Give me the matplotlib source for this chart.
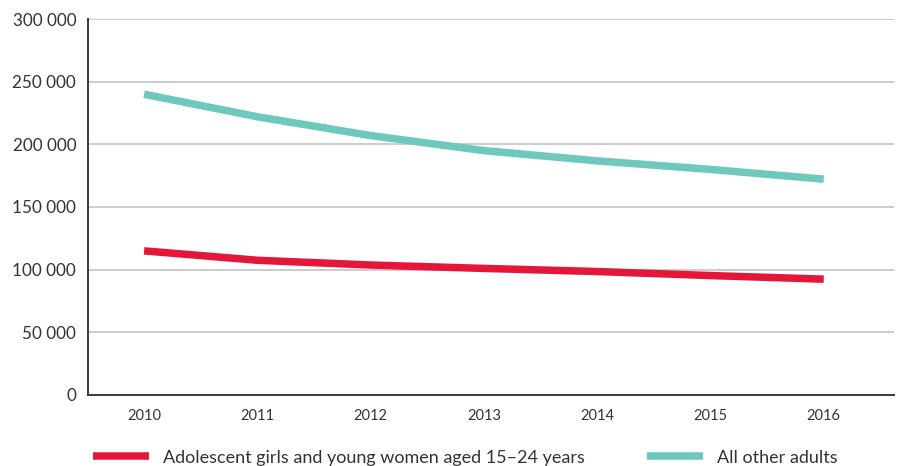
import matplotlib.pyplot as plt
from matplotlib.ticker import FuncFormatter

plt.rcParams['font.family'] = ['Lato', 'DejaVu Sans']

years = [2010, 2011, 2012, 2013, 2014, 2015, 2016]
girls = [115000, 107500, 103700, 101000, 98500, 95300, 92400]
others = [240000, 222000, 207000, 195000, 186800, 180000, 172200]

label_girls = 'Adolescent girls and young women aged 15–24 years'
label_others = 'All other adults'

red = '#e4173a'
teal = '#6fc8bc'
text_col = '#333333'

fig = plt.figure(figsize=(8.98, 4.66), dpi=100)
ax = fig.add_axes([0.098, 0.1524, 0.8975, 0.8068])

ax.plot(years, girls, color=red, lw=5.4, solid_capstyle='butt', label=label_girls, zorder=3)
ax.plot(years, others, color=teal, lw=5.4, solid_capstyle='butt', label=label_others, zorder=3)

ax.set_xlim(2009.505, 2016.62)
ax.set_ylim(0, 300000)
ax.set_yticks(range(0, 300001, 50000))
ax.set_xticks(years)
ax.yaxis.set_major_formatter(FuncFormatter(lambda v, p: f'{int(v):,}'.replace(',', ' ')))

ax.grid(axis='y', color='#c4c4c4', lw=1.2)
ax.set_axisbelow(True)
for s in ['top', 'right']:
    ax.spines[s].set_visible(False)
for s in ['left', 'bottom']:
    ax.spines[s].set_color('#3a3a3a')
    ax.spines[s].set_linewidth(1.4)

ax.tick_params(axis='y', length=0, pad=8.5, labelsize=12.3, labelcolor=text_col)
ax.tick_params(axis='x', length=0, pad=10, labelsize=10.5, labelcolor=text_col)

fig.legend(loc='lower left', bbox_to_anchor=(0.098, -0.011), ncol=2, frameon=False,
           fontsize=13, handlelength=3.1, handletextpad=0.75, columnspacing=3.45,
           labelcolor=text_col, borderaxespad=0, borderpad=0.3)

fig.savefig('out.png', dpi=100)
